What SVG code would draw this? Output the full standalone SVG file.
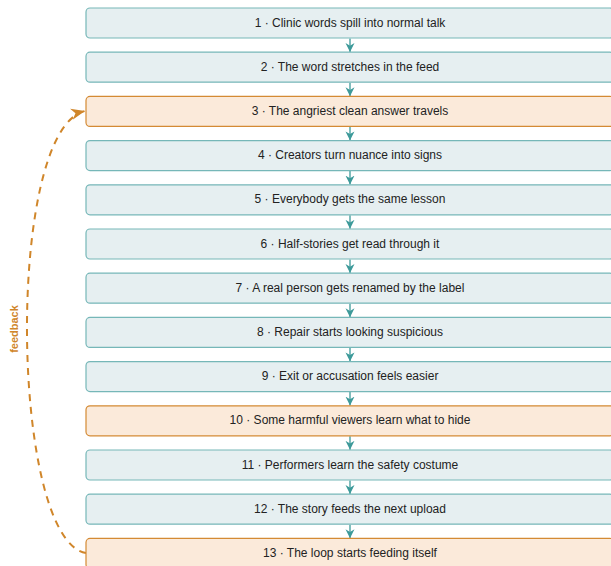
<svg xmlns="http://www.w3.org/2000/svg" width="611" height="566" viewBox="0 0 611 566">
  <style>
    .box rect { stroke-width: 1.2; }
    .step rect { fill: #e6eff1; stroke: #76b7b8; }
    .hot rect { fill: #fbeada; stroke: #d48a34; }
    .box text { font-family: "Liberation Sans", Arial, sans-serif; font-size: 12px; fill: #222; text-anchor: middle; white-space: pre; }
    .flow { stroke: #3d9a9a; stroke-width: 1.3; fill: none; marker-end: url(#tealHead); }
    .loop { stroke: #d0862a; stroke-width: 2; fill: none; stroke-dasharray: 7 6; marker-end: url(#amberHead); }
    .loopLabel { font-family: "Liberation Sans", Arial, sans-serif; font-size: 11px; font-weight: bold; fill: #d0862a; text-anchor: middle; }
  </style>
  <defs>
    <marker id="tealHead" viewBox="0 0 10 10" refX="10" refY="5" markerWidth="9" markerHeight="10" markerUnits="userSpaceOnUse" orient="auto">
      <path d="M0,0 L10,5 L0,10 L3,5 z" fill="#3d9a9a"/>
    </marker>
    <marker id="amberHead" viewBox="0 0 10 10" refX="10" refY="5" markerWidth="14" markerHeight="14" markerUnits="userSpaceOnUse" orient="auto">
      <path d="M0,1 L10,5 L0,9 L3,5 z" fill="#d0862a"/>
    </marker>
  </defs>

  <!-- vertical chain connectors and feedback loop -->
  <g id="connectors">
    <line class="flow" x1="350" y1="38.5" x2="350" y2="52"/>
    <line class="flow" x1="350" y1="82.7" x2="350" y2="96.2"/>
    <line class="flow" x1="350" y1="126.9" x2="350" y2="140.4"/>
    <line class="flow" x1="350" y1="171.1" x2="350" y2="184.6"/>
    <line class="flow" x1="350" y1="215.3" x2="350" y2="228.8"/>
    <line class="flow" x1="350" y1="259.5" x2="350" y2="273"/>
    <line class="flow" x1="350" y1="303.7" x2="350" y2="317.2"/>
    <line class="flow" x1="350" y1="347.9" x2="350" y2="361.4"/>
    <line class="flow" x1="350" y1="392.1" x2="350" y2="405.6"/>
    <line class="flow" x1="350" y1="436.3" x2="350" y2="449.8"/>
    <line class="flow" x1="350" y1="480.5" x2="350" y2="494"/>
    <line class="flow" x1="350" y1="524.7" x2="350" y2="538.2"/>
    <path class="loop" d="M86,553 C10,540 5,130 85,111"/>
    <text class="loopLabel" transform="translate(18,329) rotate(-90)">feedback</text>
  </g>

  <g id="n1" class="box step"><rect x="86" y="8" width="528" height="30" rx="4"/><text x="350" y="26.5">1 · Clinic words spill into normal talk</text></g>
  <g id="n2" class="box step"><rect x="86" y="52.2" width="528" height="30" rx="4"/><text x="350" y="70.7">2 · The word stretches in the feed</text></g>
  <g id="n3" class="box hot"><rect x="86" y="96.4" width="528" height="30" rx="4"/><text x="350" y="114.9">3 · The angriest clean answer travels</text></g>
  <g id="n4" class="box step"><rect x="86" y="140.6" width="528" height="30" rx="4"/><text x="350" y="159.1">4 · Creators turn nuance into signs</text></g>
  <g id="n5" class="box step"><rect x="86" y="184.8" width="528" height="30" rx="4"/><text x="350" y="203.3">5 · Everybody gets the same lesson</text></g>
  <g id="n6" class="box step"><rect x="86" y="229" width="528" height="30" rx="4"/><text x="350" y="247.5">6 · Half-stories get read through it</text></g>
  <g id="n7" class="box step"><rect x="86" y="273.2" width="528" height="30" rx="4"/><text x="350" y="291.7">7 · A real person gets renamed by the label</text></g>
  <g id="n8" class="box step"><rect x="86" y="317.4" width="528" height="30" rx="4"/><text x="350" y="335.9">8 · Repair starts looking suspicious</text></g>
  <g id="n9" class="box step"><rect x="86" y="361.6" width="528" height="30" rx="4"/><text x="350" y="380.1">9 · Exit or accusation feels easier</text></g>
  <g id="n10" class="box hot"><rect x="86" y="405.8" width="528" height="30" rx="4"/><text x="350" y="424.3">10 · Some harmful viewers learn what to hide</text></g>
  <g id="n11" class="box step"><rect x="86" y="450" width="528" height="30" rx="4"/><text x="350" y="468.5">11 · Performers learn the safety costume</text></g>
  <g id="n12" class="box step"><rect x="86" y="494.2" width="528" height="30" rx="4"/><text x="350" y="512.7">12 · The story feeds the next upload</text></g>
  <g id="n13" class="box hot"><rect x="86" y="538.4" width="528" height="30" rx="4"/><text x="350" y="556.9">13 · The loop starts feeding itself</text></g>
</svg>
